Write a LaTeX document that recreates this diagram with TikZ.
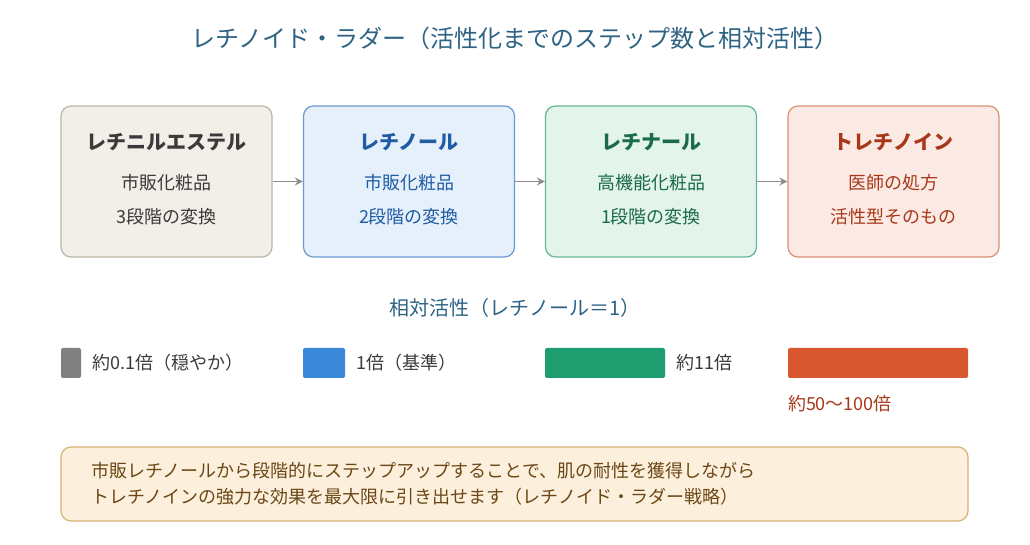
\documentclass[tikz,border=0pt]{standalone}
\usepackage{fontspec}
\setmainfont{Noto Sans CJK JP}
\usetikzlibrary{positioning, arrows}
\definecolor{titleblue}{HTML}{2E6384}
\definecolor{grayfill}{HTML}{F2EFE9}
\definecolor{graydraw}{HTML}{BDB6A8}
\definecolor{graytext}{HTML}{3A3A3A}
\definecolor{bluefill}{HTML}{E6F0FA}
\definecolor{bluedraw}{HTML}{6A9AD0}
\definecolor{bluetext}{HTML}{1F5CA6}
\definecolor{greenfill}{HTML}{E2F4EB}
\definecolor{greendraw}{HTML}{63B791}
\definecolor{greentext}{HTML}{1B6A48}
\definecolor{redfill}{HTML}{FBEAE4}
\definecolor{reddraw}{HTML}{DB8F74}
\definecolor{redtext}{HTML}{A8381A}
\definecolor{notefill}{HTML}{FCF0DD}
\definecolor{notedraw}{HTML}{D9B273}
\definecolor{notetext}{HTML}{6B4716}
\definecolor{barblue}{RGB}{59,135,217}
\definecolor{bargreen}{RGB}{30,158,112}
\definecolor{barred}{RGB}{217,87,46}
\tikzset{
>=stealth, % arrow heads
stage/.style={rounded corners=5pt, semithick, minimum width=105.5pt, minimum height=75.5pt}, % the four steps
stepline/.style={->, thick, draw=black!45}, % arrows between steps
bar/.style={rounded corners=1pt, minimum height=15pt, inner sep=0pt}, % activity bars
}
\begin{document}
\begin{tikzpicture}[x=0.5pt, y=-0.5pt]
\useasboundingbox (0,0) rectangle (1030,545);
\node[text=titleblue, font=\large] (title) at (515,38) {レチノイド・ラダー（活性化までのステップ数と相対活性）};

% stages
\node[stage, fill=grayfill, draw=graydraw] (este) at (166.5,181.5) {};
\node[stage, fill=bluefill, draw=bluedraw] (retinol) at (409,181.5) {};
\node[stage, fill=greenfill, draw=greendraw] (retinal) at (651,181.5) {};
\node[stage, fill=redfill, draw=reddraw] (treti) at (893.5,181.5) {};
\foreach \n/\a/\b/\c/\col in {este/レチニルエステル/市販化粧品/3段階の変換/graytext,
  retinol/レチノール/市販化粧品/2段階の変換/bluetext,
  retinal/レチナール/高機能化粧品/1段階の変換/greentext,
  treti/トレチノイン/医師の処方/活性型そのもの/redtext}{
  \node[text=\col, font=\bfseries] at ([yshift=-18.5pt]\n.north) {\a};
  \node[text=\col, font=\small] at ([yshift=-38.5pt]\n.north) {\b};
  \node[text=\col, font=\small] at ([yshift=-55.5pt]\n.north) {\c};
}

% edges
\draw[stepline] (este) -- (retinol);
\draw[stepline] (retinol) -- (retinal);
\draw[stepline] (retinal) -- (treti);

% relative activity
\node[text=titleblue] (acttitle) at (515,308) {相対活性（レチノール＝1）};
\node[bar, fill=black!50, minimum width=10pt] (b1) at (71,363) {};
\node[bar, fill=barblue, minimum width=21pt] (b2) at (324,363) {};
\node[bar, fill=bargreen, minimum width=60pt] (b3) at (605,363) {};
\node[bar, fill=barred, minimum width=90pt] (b4) at (878,363) {};
\node[right=2pt of b1, text=graytext, font=\small] {約0.1倍（穏やか）};
\node[right=2pt of b2, text=graytext, font=\small] {1倍（基準）};
\node[right=2pt of b3, text=graytext, font=\small] {約11倍};
\node[below right=5pt and 0pt of b4.south west, anchor=north west, inner xsep=0pt, text=redtext, font=\small] {約50〜100倍};

% note
\node[rounded corners=5pt, semithick, fill=notefill, draw=notedraw, minimum width=453.5pt, minimum height=37pt] (note) at (514.5,484) {};
\node[anchor=west, text=notetext, align=left, font=\small] at ([xshift=12pt]note.west) {市販レチノールから段階的にステップアップすることで、肌の耐性を獲得しながら\\[2pt]トレチノインの強力な効果を最大限に引き出せます（レチノイド・ラダー戦略）};
\end{tikzpicture}
\end{document}
